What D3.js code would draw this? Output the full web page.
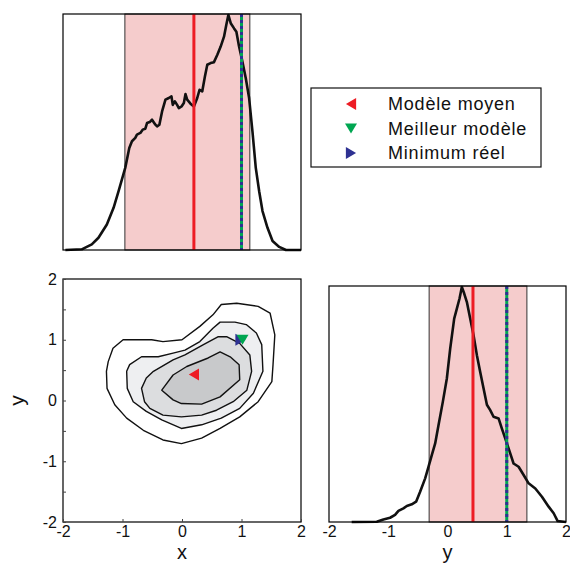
<!DOCTYPE html>
<html><head><meta charset="utf-8">
<script src="https://cdn.jsdelivr.net/npm/d3@7"></script>
<style>body{margin:0;background:#fff}svg{display:block;font-family:"Liberation Sans",Arial,sans-serif}</style>
</head><body><svg id="c" width="570" height="564"></svg>
<script>
// ---- data ----
const topX = [-1.96,-1.685,-1.516,-1.404,-1.263,-1.150,-1.066,-0.954,-0.886,-0.841,-0.785,-0.757,-0.700,-0.661,-0.616,-0.588,-0.543,-0.504,-0.447,-0.419,-0.380,-0.335,-0.278,-0.222,-0.177,-0.155,-0.121,-0.082,-0.053,-0.008,0.031,0.059,0.087,0.143,0.200,0.256,0.295,0.340,0.385,0.425,0.481,0.537,0.594,0.650,0.706,0.745,0.779,0.819,0.875,0.914,0.959,1.015,1.072,1.128,1.184,1.240,1.297,1.353,1.437,1.522,1.634,1.747,2.0];
const topV = [0,0.003,0.024,0.052,0.108,0.179,0.249,0.348,0.432,0.461,0.475,0.489,0.496,0.510,0.514,0.538,0.542,0.552,0.531,0.524,0.531,0.587,0.637,0.644,0.651,0.615,0.630,0.615,0.601,0.608,0.623,0.661,0.637,0.620,0.608,0.644,0.679,0.672,0.735,0.785,0.792,0.796,0.827,0.862,0.904,0.954,0.996,0.961,0.939,0.925,0.862,0.799,0.728,0.644,0.503,0.348,0.249,0.165,0.094,0.038,0.013,0,0];
const rightX = [-1.617,-1.194,-1.082,-0.969,-0.885,-0.828,-0.744,-0.687,-0.603,-0.530,-0.462,-0.377,-0.321,-0.265,-0.208,-0.152,-0.079,-0.011,0.045,0.113,0.158,0.203,0.242,0.282,0.327,0.383,0.439,0.496,0.552,0.608,0.665,0.721,0.777,0.862,0.918,0.975,1.031,1.115,1.200,1.285,1.369,1.482,1.594,1.707,1.792,1.859,2.0];
const rightV = [0,0.001,0.011,0.018,0.030,0.047,0.058,0.068,0.075,0.086,0.128,0.185,0.234,0.283,0.333,0.410,0.509,0.608,0.734,0.862,0.904,0.947,0.996,0.968,0.932,0.862,0.792,0.707,0.636,0.567,0.497,0.474,0.446,0.439,0.396,0.354,0.312,0.248,0.234,0.199,0.164,0.142,0.107,0.065,0.037,0.004,0];
const contourOuter = [[-1.27,0.48],[-1.26,0.20],[-1.13,-0.07],[-0.93,-0.29],[-0.65,-0.49],[-0.32,-0.65],[-0.01,-0.71],[0.33,-0.62],[0.64,-0.46],[0.97,-0.27],[1.28,-0.02],[1.51,0.31],[1.53,0.59],[1.56,1.08],[1.48,1.44],[1.28,1.55],[0.92,1.60],[0.66,1.58],[0.52,1.41],[0.30,1.22],[0,1.0],[-0.32,0.97],[-0.51,1.0],[-0.74,1.0],[-0.99,1.0],[-1.16,0.86],[-1.24,0.64]];
const contourMid1 = [[-0.93,0.48],[-0.92,0.20],[-0.82,-0.02],[-0.60,-0.18],[-0.34,-0.32],[-0.01,-0.46],[0.33,-0.40],[0.66,-0.29],[0.97,-0.13],[1.20,0.12],[1.36,0.48],[1.34,0.92],[1.25,1.11],[1.08,1.25],[0.89,1.29],[0.64,1.29],[0.52,1.19],[0.30,0.97],[0.05,0.83],[-0.15,0.78],[-0.40,0.72],[-0.68,0.72],[-0.88,0.59]];
const contourMid2 = [[-0.68,0.20],[-0.63,-0.02],[-0.54,-0.13],[-0.32,-0.24],[-0.01,-0.27],[0.33,-0.24],[0.58,-0.16],[0.86,-0.02],[1.09,0.17],[1.17,0.48],[1.14,0.75],[0.97,0.94],[0.75,1.05],[0.61,1.05],[0.36,0.92],[0.05,0.75],[-0.15,0.67],[-0.48,0.48],[-0.60,0.37]];
const contourInner = [[-0.34,0.17],[-0.15,0.01],[-0.01,-0.05],[0.33,-0.06],[0.64,0.06],[0.97,0.34],[0.96,0.59],[0.81,0.72],[0.64,0.80],[0.44,0.70],[0.08,0.56],[-0.15,0.42]];
const contourFills = ["#ffffff","#eeeff1","#dcdddf","#c8c9cb"];
const xInterval = [-0.96, 1.14];
const yInterval = [-0.31, 1.34];
const meanModel = [0.2, 0.43];
const bestModel = [1.0, 1.0];
const trueMin = [1.0, 1.0];
const majorTicks = [-2,-1,0,1,2];
const minorTicksY = [-1.5,-1,-0.5,0,0.5,1,1.5];
const legendLabels = ["Modèle moyen","Meilleur modèle","Minimum réel"];
const legendColors = ["#ed1c24","#00a651","#2e3192"];

// ---- drawing ----
const svg = d3.select("#c");
const RED="#ed1c24", GREEN="#00a651", BLUE="#2e3192", PINK="#f5cccc";
const fmt = d => String(d);

function triangle(dir, s){
  const h=s, w=s*0.85;
  if(dir==="left") return `M${-w/2},0L${w/2},${-h/2}L${w/2},${h/2}Z`;
  if(dir==="right") return `M${w/2},0L${-w/2},${-h/2}L${-w/2},${h/2}Z`;
  return `M${-h/2},${-w/2}L${h/2},${-w/2}L0,${w/2}Z`;
}

// Top panel
const tp = {x0:63,x1:301,y0:14,y1:250};
const tx = d3.scaleLinear().domain([-2,2]).range([tp.x0,tp.x1]);
const ty = d3.scaleLinear().domain([0,1]).range([tp.y1,tp.y0]);
const gT = svg.append("g");
gT.append("rect").attr("x",tx(xInterval[0])).attr("y",tp.y0).attr("width",tx(xInterval[1])-tx(xInterval[0])).attr("height",tp.y1-tp.y0).attr("fill",PINK).attr("stroke","#333").attr("stroke-width",1);
gT.append("path").datum(d3.zip(topX,topV)).attr("fill","none").attr("stroke","#111").attr("stroke-width",2.6).attr("stroke-linejoin","round")
  .attr("d",d3.line().x(d=>tx(d[0])).y(d=>ty(d[1])));
gT.append("line").attr("x1",tx(meanModel[0])).attr("x2",tx(meanModel[0])).attr("y1",tp.y0).attr("y2",tp.y1).attr("stroke",RED).attr("stroke-width",3);
gT.append("line").attr("x1",tx(bestModel[0])).attr("x2",tx(bestModel[0])).attr("y1",tp.y0).attr("y2",tp.y1).attr("stroke",GREEN).attr("stroke-width",3);
gT.append("line").attr("x1",tx(trueMin[0])).attr("x2",tx(trueMin[0])).attr("y1",tp.y0).attr("y2",tp.y1).attr("stroke",BLUE).attr("stroke-width",3).attr("stroke-dasharray","3,3");
gT.append("rect").attr("x",tp.x0).attr("y",tp.y0).attr("width",tp.x1-tp.x0).attr("height",tp.y1-tp.y0).attr("fill","none").attr("stroke","#000").attr("stroke-width",1.2);

// Contour panel
const cp = {x0:63,x1:301,y0:279,y1:522};
const cx = d3.scaleLinear().domain([-2,2]).range([cp.x0,cp.x1]);
const cy = d3.scaleLinear().domain([-2,2]).range([cp.y1,cp.y0]);
const gC = svg.append("g");
const cline = d3.line().x(d=>cx(d[0])).y(d=>cy(d[1])).curve(d3.curveLinearClosed);
[contourOuter,contourMid1,contourMid2,contourInner].forEach((poly,i)=>{
  gC.append("path").attr("d",cline(poly)).attr("fill",contourFills[i]).attr("stroke","#111").attr("stroke-width",1.4).attr("stroke-linejoin","round");
});
gC.append("path").attr("d",triangle("right",12)).attr("transform",`translate(${cx(trueMin[0])-1},${cy(trueMin[1])})`).attr("fill",BLUE);
gC.append("path").attr("d",triangle("down",12)).attr("transform",`translate(${cx(bestModel[0])+1},${cy(bestModel[1])})`).attr("fill",GREEN);
gC.append("path").attr("d",triangle("left",12)).attr("transform",`translate(${cx(meanModel[0])},${cy(meanModel[1])})`).attr("fill",RED);
gC.append("rect").attr("x",cp.x0).attr("y",cp.y0).attr("width",cp.x1-cp.x0).attr("height",cp.y1-cp.y0).attr("fill","none").attr("stroke","#000").attr("stroke-width",1.2);
const xAx = d3.axisBottom(cx).tickValues(majorTicks).tickSize(-3).tickPadding(4).tickFormat(fmt);
const gxa = gC.append("g").attr("transform",`translate(0,${cp.y1})`).call(xAx);
gxa.select(".domain").remove();
gxa.selectAll("text").attr("font-size",16).attr("fill","#111").attr("font-family","Liberation Sans, Arial, sans-serif");
gxa.selectAll("line").attr("stroke","#444");
const yAx = d3.axisLeft(cy).tickValues(minorTicksY.concat([-2,2])).tickSize(-3).tickPadding(6).tickFormat(d=>Number.isInteger(d)?fmt(d):"");
const gya = gC.append("g").attr("transform",`translate(${cp.x0},0)`).call(yAx);
gya.select(".domain").remove();
gya.selectAll("text").attr("font-size",16).attr("fill","#111").attr("font-family","Liberation Sans, Arial, sans-serif");
gya.selectAll("line").attr("stroke","#444");
svg.append("text").attr("x",(cp.x0+cp.x1)/2).attr("y",559).attr("text-anchor","middle").attr("font-size",20).attr("fill","#111").text("x");
svg.append("text").attr("transform",`translate(24,${(cp.y0+cp.y1)/2}) rotate(-90)`).attr("text-anchor","middle").attr("font-size",21).attr("fill","#111").text("y");

// Right panel
const rp = {x0:329,x1:566,y0:286,y1:522};
const rx = d3.scaleLinear().domain([-2,2]).range([rp.x0,rp.x1]);
const ry = d3.scaleLinear().domain([0,1]).range([rp.y1,rp.y0]);
const gR = svg.append("g");
gR.append("rect").attr("x",rx(yInterval[0])).attr("y",rp.y0).attr("width",rx(yInterval[1])-rx(yInterval[0])).attr("height",rp.y1-rp.y0).attr("fill",PINK).attr("stroke","#333").attr("stroke-width",1);
gR.append("path").datum(d3.zip(rightX,rightV)).attr("fill","none").attr("stroke","#111").attr("stroke-width",2.6).attr("stroke-linejoin","round")
  .attr("d",d3.line().x(d=>rx(d[0])).y(d=>ry(d[1])));
gR.append("line").attr("x1",rx(meanModel[1])).attr("x2",rx(meanModel[1])).attr("y1",rp.y0).attr("y2",rp.y1).attr("stroke",RED).attr("stroke-width",3);
gR.append("line").attr("x1",rx(bestModel[1])).attr("x2",rx(bestModel[1])).attr("y1",rp.y0).attr("y2",rp.y1).attr("stroke",GREEN).attr("stroke-width",3);
gR.append("line").attr("x1",rx(trueMin[1])).attr("x2",rx(trueMin[1])).attr("y1",rp.y0).attr("y2",rp.y1).attr("stroke",BLUE).attr("stroke-width",3).attr("stroke-dasharray","3,3");
gR.append("rect").attr("x",rp.x0).attr("y",rp.y0).attr("width",rp.x1-rp.x0).attr("height",rp.y1-rp.y0).attr("fill","none").attr("stroke","#000").attr("stroke-width",1.2);
const rAx = d3.axisBottom(rx).tickValues(majorTicks).tickSize(0).tickPadding(4).tickFormat(fmt);
const gra = gR.append("g").attr("transform",`translate(0,${rp.y1})`).call(rAx);
gra.select(".domain").remove();
gra.selectAll("text").attr("font-size",16).attr("fill","#111").attr("font-family","Liberation Sans, Arial, sans-serif");
svg.append("text").attr("x",(rp.x0+rp.x1)/2).attr("y",559).attr("text-anchor","middle").attr("font-size",20).attr("fill","#111").text("y");

// Legend
const lg = svg.append("g");
lg.append("rect").attr("x",311).attr("y",88).attr("width",230).attr("height",79).attr("fill","#fff").attr("stroke","#111").attr("stroke-width",1.2);
const dirs=["left","down","right"];
legendLabels.forEach((lab,i)=>{
  const yy = 104 + i*24.5;
  lg.append("path").attr("d",triangle(dirs[i],12)).attr("transform",`translate(351,${yy})`).attr("fill",legendColors[i]);
  lg.append("text").attr("x",388).attr("y",yy+6).attr("font-size",18).attr("letter-spacing",0.8).attr("fill","#111").text(lab);
});
</script></body></html>
